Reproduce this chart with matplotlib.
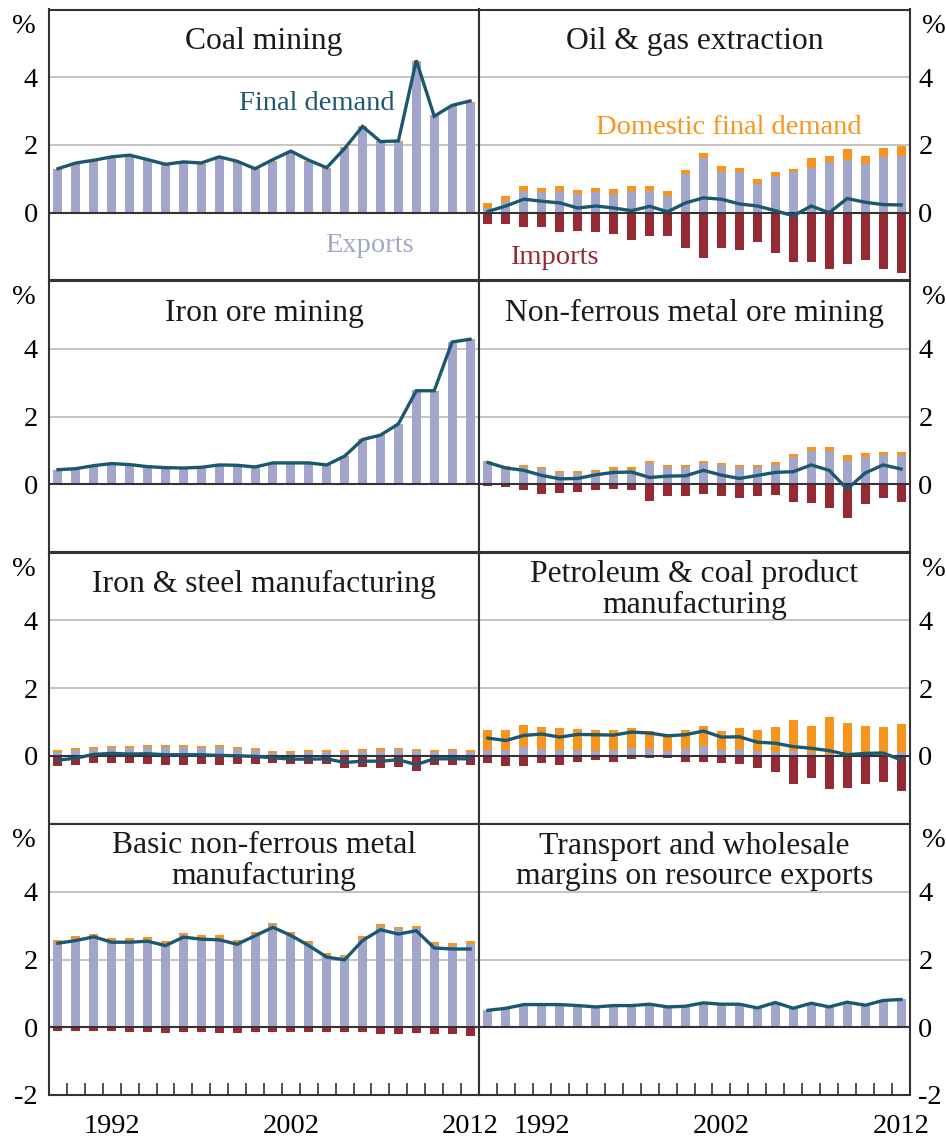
import numpy as np
import matplotlib.pyplot as plt

plt.rcParams['font.family'] = ['Liberation Serif', 'DejaVu Serif']

# ----------------------------------------------
# Data (% of output)
years = list(range(1989, 2013))
label_years = [1992, 2002, 2012]

coal_exports = [1.26, 1.41, 1.51, 1.61, 1.68, 1.53, 1.39, 1.49, 1.41, 1.63, 1.46, 1.26, 1.51, 1.79, 1.51, 1.29,
                1.91, 2.52, 2.08, 2.10, 4.46, 2.86, 3.11, 3.25]
coal_domestic = [0.03] * 24
coal_imports = [0.0] * 24
coal_final = [1.30, 1.47, 1.55, 1.65, 1.70, 1.57, 1.43, 1.50, 1.47, 1.65, 1.52, 1.30, 1.57, 1.82, 1.55, 1.33,
              1.90, 2.55, 2.10, 2.12, 4.50, 2.85, 3.17, 3.30]

oil_exports = [0.14, 0.36, 0.65, 0.60, 0.65, 0.54, 0.60, 0.55, 0.65, 0.65, 0.50, 1.14, 1.61, 1.21, 1.20, 0.86,
               1.08, 1.20, 1.33, 1.49, 1.57, 1.43, 1.64, 1.69]
oil_domestic = [0.16, 0.14, 0.15, 0.13, 0.15, 0.14, 0.13, 0.15, 0.15, 0.15, 0.15, 0.13, 0.14, 0.18, 0.13, 0.15,
                0.11, 0.10, 0.30, 0.18, 0.30, 0.26, 0.27, 0.28]
oil_imports = [-0.32, -0.32, -0.43, -0.43, -0.58, -0.55, -0.58, -0.63, -0.81, -0.68, -0.68, -1.03, -1.34, -1.03,
               -1.11, -0.85, -1.20, -1.44, -1.44, -1.67, -1.50, -1.40, -1.67, -1.77]
oil_final = [0.04, 0.20, 0.40, 0.34, 0.29, 0.14, 0.20, 0.14, 0.06, 0.19, 0.03, 0.29, 0.44, 0.40, 0.26, 0.20,
             0.06, -0.09, 0.20, 0.00, 0.42, 0.31, 0.24, 0.23]

iron_exports = [0.41, 0.44, 0.51, 0.59, 0.56, 0.51, 0.47, 0.46, 0.48, 0.56, 0.55, 0.51, 0.62, 0.62, 0.62, 0.56,
                0.81, 1.32, 1.44, 1.77, 2.77, 2.73, 4.19, 4.26]
iron_domestic = [0.02] * 24
iron_imports = [0.0] * 24
iron_final = [0.43, 0.46, 0.55, 0.61, 0.58, 0.52, 0.49, 0.48, 0.50, 0.57, 0.56, 0.51, 0.63, 0.63, 0.63, 0.57,
              0.83, 1.32, 1.45, 1.78, 2.76, 2.76, 4.20, 4.28]

nonfer_exports = [0.65, 0.48, 0.51, 0.45, 0.33, 0.33, 0.36, 0.43, 0.43, 0.63, 0.52, 0.52, 0.64, 0.56, 0.50, 0.50,
                  0.58, 0.81, 0.99, 0.97, 0.70, 0.80, 0.86, 0.86]
nonfer_domestic = [0.05, 0.07, 0.07, 0.07, 0.07, 0.07, 0.07, 0.09, 0.09, 0.07, 0.06, 0.06, 0.06, 0.08, 0.08, 0.08,
                   0.08, 0.09, 0.12, 0.14, 0.15, 0.12, 0.10, 0.10]
nonfer_imports = [-0.06, -0.09, -0.18, -0.29, -0.27, -0.24, -0.18, -0.15, -0.18, -0.50, -0.35, -0.35, -0.29,
                  -0.35, -0.41, -0.35, -0.32, -0.53, -0.56, -0.71, -1.00, -0.59, -0.41, -0.53]
nonfer_final = [0.64, 0.48, 0.41, 0.26, 0.16, 0.17, 0.28, 0.35, 0.36, 0.20, 0.24, 0.25, 0.41, 0.27, 0.17, 0.26,
                0.35, 0.37, 0.57, 0.41, -0.14, 0.33, 0.57, 0.45]

steel_exports = [0.12, 0.18, 0.21, 0.23, 0.23, 0.26, 0.26, 0.26, 0.23, 0.26, 0.21, 0.18, 0.09, 0.09, 0.12, 0.12,
                 0.12, 0.15, 0.15, 0.18, 0.15, 0.12, 0.15, 0.12]
steel_domestic = [0.06, 0.05, 0.05, 0.06, 0.06, 0.06, 0.06, 0.06, 0.06, 0.06, 0.05, 0.05, 0.06, 0.06, 0.06, 0.06,
                  0.06, 0.06, 0.08, 0.05, 0.06, 0.06, 0.06, 0.06]
steel_imports = [-0.31, -0.28, -0.22, -0.22, -0.22, -0.25, -0.28, -0.28, -0.25, -0.28, -0.25, -0.25, -0.22,
                 -0.25, -0.25, -0.25, -0.37, -0.34, -0.37, -0.34, -0.46, -0.28, -0.28, -0.28]
steel_final = [-0.13, -0.07, 0.04, 0.07, 0.05, 0.06, 0.03, 0.03, 0.03, 0.01, 0.00, -0.02, -0.06, -0.10, -0.10,
               -0.09, -0.20, -0.16, -0.16, -0.12, -0.26, -0.09, -0.09, -0.09]

petrol_exports = [0.18, 0.18, 0.25, 0.20, 0.18, 0.18, 0.14, 0.18, 0.23, 0.21, 0.14, 0.20, 0.29, 0.18, 0.20, 0.14,
                  0.12, 0.14, 0.08, 0.04, 0.02, 0.02, 0.02, 0.12]
petrol_domestic = [0.58, 0.58, 0.66, 0.65, 0.64, 0.61, 0.62, 0.58, 0.59, 0.52, 0.51, 0.56, 0.59, 0.55, 0.62, 0.62,
                   0.73, 0.92, 0.80, 1.10, 0.95, 0.86, 0.83, 0.82]
petrol_imports = [-0.22, -0.31, -0.31, -0.20, -0.28, -0.17, -0.14, -0.17, -0.11, -0.08, -0.08, -0.17, -0.17,
                  -0.20, -0.25, -0.37, -0.49, -0.82, -0.67, -0.99, -0.96, -0.82, -0.78, -1.05]
petrol_final = [0.52, 0.45, 0.60, 0.64, 0.55, 0.63, 0.62, 0.61, 0.70, 0.67, 0.59, 0.62, 0.73, 0.55, 0.56, 0.40,
                0.37, 0.27, 0.22, 0.15, 0.03, 0.07, 0.08, -0.12]

basic_exports = [2.51, 2.60, 2.70, 2.56, 2.56, 2.58, 2.50, 2.73, 2.64, 2.64, 2.53, 2.75, 3.03, 2.75, 2.50, 2.11,
                 2.06, 2.61, 2.97, 2.89, 2.92, 2.44, 2.40, 2.46]
basic_domestic = [0.08, 0.08, 0.05, 0.06, 0.06, 0.07, 0.06, 0.05, 0.07, 0.07, 0.06, 0.07, 0.06, 0.07, 0.06, 0.07,
                  0.06, 0.07, 0.08, 0.08, 0.08, 0.09, 0.09, 0.10]
basic_imports = [-0.11, -0.11, -0.11, -0.11, -0.14, -0.14, -0.17, -0.14, -0.14, -0.17, -0.17, -0.14, -0.14,
                 -0.14, -0.14, -0.14, -0.14, -0.14, -0.20, -0.20, -0.17, -0.20, -0.20, -0.25]
basic_final = [2.48, 2.56, 2.67, 2.51, 2.51, 2.54, 2.41, 2.66, 2.60, 2.58, 2.45, 2.70, 2.95, 2.71, 2.41, 2.07,
               1.99, 2.56, 2.88, 2.75, 2.85, 2.34, 2.31, 2.31]

margin_exports = [0.50, 0.58, 0.68, 0.68, 0.68, 0.65, 0.62, 0.65, 0.65, 0.69, 0.60, 0.63, 0.72, 0.68, 0.68, 0.58,
                  0.73, 0.57, 0.71, 0.61, 0.75, 0.67, 0.79, 0.82]
margin_domestic = [0.0] * 24
margin_imports = [0.0] * 24
margin_final = [0.50, 0.56, 0.67, 0.67, 0.67, 0.64, 0.60, 0.64, 0.64, 0.68, 0.60, 0.62, 0.72, 0.68, 0.68, 0.57,
                0.73, 0.56, 0.71, 0.60, 0.74, 0.65, 0.79, 0.82]

# ----------------------------------------------
# Colours
c_exp = '#A3A6CC'
c_dom = '#F7941D'
c_imp = '#962A34'
c_line = '#1B5870'
c_frame = '#333333'
c_grid = '#C4C4C4'

W, H = 946, 1140
fig = plt.figure(figsize=(W / 100, H / 100), dpi=100)

col_x = [49, 479]
col_w = [430, 431]
row_top = [9.5, 281, 552.5, 824]
row_h = 271


def make_axes(row, col):
    left = col_x[col] / W
    bottom = 1 - (row_top[row] + row_h) / H
    return fig.add_axes([left, bottom, col_w[col] / W, row_h / H])


def draw_panel(ax, title, exp, dom, imp, final, row, col):
    x = np.arange(len(years))
    ax.bar(x, exp, width=0.5, color=c_exp, zorder=2, linewidth=0)
    ax.bar(x, dom, width=0.5, bottom=exp, color=c_dom, zorder=2, linewidth=0)
    ax.bar(x, imp, width=0.5, color=c_imp, zorder=2, linewidth=0)
    ax.plot(x, final, color=c_line, lw=2.4, zorder=4, solid_joinstyle='miter')

    for g in [2, 4]:
        ax.axhline(g, color=c_grid, lw=1.4, zorder=0)
    ax.axhline(0, color=c_frame, lw=1.5, zorder=3)

    ax.set_xlim(-0.5, len(years) - 0.5)
    ax.set_ylim(-2, 6)
    for s in ax.spines.values():
        s.set_color(c_frame)
        s.set_linewidth(1.5)

    # y axis labels
    bottom_row = row == 3
    yt = [-2, 0, 2, 4] if bottom_row else [0, 2, 4]
    ax.set_yticks(yt)
    ax.set_yticklabels([str(v) for v in yt])
    if col == 0:
        ax.tick_params(axis='y', length=0, pad=8, labelsize=20.5, labelleft=True, labelright=False)
        ax.text(-0.058, 0.985, '%', transform=ax.transAxes, ha='center', va='top', fontsize=20.5)
    else:
        ax.tick_params(axis='y', length=0, pad=6, labelsize=20.5, labelleft=False, labelright=True)
        ax.yaxis.set_ticks_position('right')
        ax.text(1.055, 0.985, '%', transform=ax.transAxes, ha='center', va='top', fontsize=20.5)

    # x axis
    if bottom_row:
        ax.set_xticks(np.arange(len(years) - 1) + 0.5, minor=True)
        ax.set_xticks([years.index(y) for y in label_years])
        ax.set_xticklabels([str(y) for y in label_years])
        ax.tick_params(axis='x', which='minor', direction='in', length=9, width=1.2, color=c_frame)
        ax.tick_params(axis='x', which='major', length=0, pad=13.5, labelsize=20.5)
    else:
        ax.set_xticks([])

    two_lines = '\n' in title
    ax.text(0.5, 0.974 if two_lines else 0.934, title, transform=ax.transAxes, ha='center', va='top',
            fontsize=22.8, linespacing=1.08, color='#1a1a1a')


panels = [
    ('Coal mining', coal_exports, coal_domestic, coal_imports, coal_final, 0, 0),
    ('Oil & gas extraction', oil_exports, oil_domestic, oil_imports, oil_final, 0, 1),
    ('Iron ore mining', iron_exports, iron_domestic, iron_imports, iron_final, 1, 0),
    ('Non-ferrous metal ore mining', nonfer_exports, nonfer_domestic, nonfer_imports, nonfer_final, 1, 1),
    ('Iron & steel manufacturing', steel_exports, steel_domestic, steel_imports, steel_final, 2, 0),
    ('Petroleum & coal product\nmanufacturing', petrol_exports, petrol_domestic, petrol_imports, petrol_final, 2, 1),
    ('Basic non-ferrous metal\nmanufacturing', basic_exports, basic_domestic, basic_imports, basic_final, 3, 0),
    ('Transport and wholesale\nmargins on resource exports', margin_exports, margin_domestic, margin_imports,
     margin_final, 3, 1),
]

axes = {}
for title, exp, dom, imp, final, row, col in panels:
    ax = make_axes(row, col)
    draw_panel(ax, title, exp, dom, imp, final, row, col)
    axes[(row, col)] = ax

# series labels
axes[(0, 0)].text(14.45, 3.23, 'Final demand', color=c_line, fontsize=20.5, ha='center', va='center', zorder=5)
axes[(0, 0)].text(17.4, -0.98, 'Exports', color=c_exp, fontsize=20.5, ha='center', va='center', zorder=5)
axes[(0, 1)].text(13.4, 2.52, 'Domestic final demand', color=c_dom, fontsize=20.5, ha='center', va='center',
                  zorder=5)
axes[(0, 1)].text(3.67, -1.33, 'Imports', color=c_imp, fontsize=20.5, ha='center', va='center', zorder=5)

fig.savefig('out.png', dpi=100)
